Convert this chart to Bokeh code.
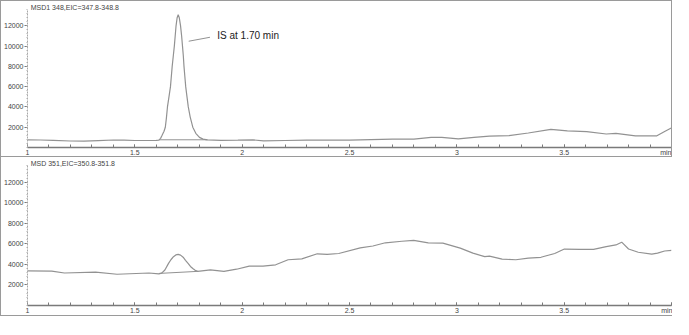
from bokeh.plotting import figure
from bokeh.layouts import column
from bokeh.models import Range1d, FixedTicker, Label
from bokeh.embed import file_html
from bokeh.resources import INLINE

# ---- data (retention time in min, abundance) ----
top_title = "MSD1 348,EIC=347.8-348.8"
top_t = [1.000, 1.06, 1.12, 1.20, 1.263, 1.33, 1.40, 1.45, 1.50, 1.566, 1.600, 1.612,
         1.620, 1.627, 1.636, 1.642, 1.647, 1.652, 1.659, 1.666, 1.670, 1.674, 1.679,
         1.684, 1.688, 1.692, 1.697, 1.702, 1.707, 1.713, 1.718, 1.722, 1.726, 1.729,
         1.733, 1.737, 1.743, 1.749, 1.758, 1.770, 1.784, 1.801, 1.818, 1.838, 1.90,
         1.98, 2.05, 2.10, 2.20, 2.30, 2.43, 2.50, 2.60, 2.70, 2.80, 2.88, 2.93,
         3.007, 3.08, 3.152, 3.243, 3.333, 3.438, 3.515, 3.605, 3.696, 3.741, 3.832,
         3.932, 3.968, 4.000]
top_v = [755, 740, 700, 640, 620, 680, 740, 720, 690, 690, 700, 720,
         900, 1200, 1600, 2000, 2900, 4000, 5000, 6000, 7000, 8000, 9000,
         10000, 11000, 12000, 12800, 13100, 12800, 12000, 11000, 10000, 9000, 8000,
         7000, 6000, 5000, 4000, 3000, 2000, 1400, 1000, 830, 750, 700,
         720, 750, 660, 690, 720, 727, 720, 780, 820, 830, 1000, 1000,
         850, 1000, 1120, 1180, 1430, 1790, 1640, 1570, 1330, 1390, 1150,
         1150, 1570, 1940]
top_base_t = [1.612, 1.838]
top_base_v = [760, 760]

bot_title = "MSD 351,EIC=350.8-351.8"
bot_t = [1.000, 1.113, 1.172, 1.317, 1.417, 1.566, 1.612, 1.625, 1.640, 1.657, 1.668,
         1.680, 1.691, 1.702, 1.713, 1.725, 1.736, 1.748, 1.759, 1.770, 1.781, 1.793,
         1.852, 1.915, 1.974, 2.033, 2.097, 2.156, 2.214, 2.278, 2.350, 2.396, 2.450,
         2.550, 2.609, 2.667, 2.744, 2.799, 2.867, 2.935, 3.016, 3.075, 3.130, 3.152,
         3.211, 3.275, 3.333, 3.392, 3.456, 3.501, 3.574, 3.637, 3.696, 3.741, 3.768,
         3.800, 3.845, 3.908, 3.935, 3.968, 4.000]
bot_v = [3375, 3350, 3160, 3250, 3040, 3160, 3070, 3150, 3450, 4100, 4450,
         4750, 4920, 4970, 4900, 4700, 4400, 4100, 3800, 3600, 3420, 3320,
         3470, 3320, 3530, 3830, 3830, 3960, 4450, 4540, 5030, 4970, 5060,
         5610, 5790, 6100, 6250, 6340, 6100, 6070, 5580, 5090, 4750, 4810,
         4510, 4450, 4600, 4690, 5060, 5490, 5460, 5460, 5730, 5890, 6160,
         5500, 5180, 5000, 5090, 5300, 5360]
bot_base_t = [1.612, 1.793]
bot_base_v = [3120, 3320]

x_ticks = [1, 1.5, 2, 2.5, 3, 3.5, 4]
x_tick_labels = ["1", "1.5", "2", "2.5", "3", "3.5", "min"]
y_ticks = [2000, 4000, 6000, 8000, 10000, 12000]

ann_text = "IS at 1.70 min"
ann_line_t = [1.751, 1.850]
ann_line_v = [10480, 10870]
ann_pos = (1.884, 11000)

FONT = "Liberation Sans"
TRACE = "#929292"
BORDER = "1px solid #9a9a9a"


def panel(h, title, t, v, bt, bv):
    p = figure(width=671, height=h, output_backend="svg", toolbar_location=None,
               x_range=Range1d(1, 4), y_range=Range1d(0, 14300),
               min_border_left=22, min_border_right=1, min_border_top=1,
               min_border_bottom=0)
    p.grid.visible = False
    p.outline_line_color = None
    p.background_fill_color = "white"
    p.line(t, v, line_color=TRACE, line_width=1.2)
    p.line(bt, bv, line_color=TRACE, line_width=1.0)

    xa = p.xaxis[0]
    xa.ticker = FixedTicker(ticks=x_ticks,
                            minor_ticks=[1 + i * 0.1 for i in range(31)])
    xa.major_label_overrides = {k: s for k, s in zip(x_ticks, x_tick_labels)}
    xa.bounds = (1, 4)
    xa.axis_line_color = "#7a7a7a"
    xa.axis_line_width = 1.3
    xa.major_tick_in = 3
    xa.major_tick_out = 0
    xa.minor_tick_in = 3
    xa.minor_tick_out = 0
    xa.major_tick_line_color = "#7a7a7a"
    xa.minor_tick_line_color = "#7a7a7a"
    xa.major_label_standoff = 1
    xa.major_label_text_font = FONT
    xa.major_label_text_font_size = "7px"
    xa.major_label_text_color = "#444444"

    ya = p.yaxis[0]
    ya.ticker = FixedTicker(ticks=y_ticks,
                            minor_ticks=[i * 400 for i in range(35)])
    ya.bounds = (0, 13600)
    ya.axis_line_color = "#a8a8a8"
    ya.axis_line_dash = "2 1"
    ya.major_tick_in = 0
    ya.major_tick_out = 3
    ya.minor_tick_in = 0
    ya.minor_tick_out = 1
    ya.major_tick_line_color = "#7a7a7a"
    ya.minor_tick_line_color = "#b0b0b0"
    ya.major_label_standoff = 1
    ya.major_label_text_font = FONT
    ya.major_label_text_font_size = "7px"
    ya.major_label_text_color = "#444444"

    p.add_layout(Label(x=1.015, y=14300, text=title, text_baseline="top",
                       y_offset=-1, text_font=FONT, text_font_size="7px",
                       text_color="#444444"))
    return p


p1 = panel(157, top_title, top_t, top_v, top_base_t, top_base_v)
p1.line(ann_line_t, ann_line_v, line_color=TRACE, line_width=1.0)
p1.add_layout(Label(x=ann_pos[0], y=ann_pos[1], text=ann_text,
                    text_baseline="middle", text_font=FONT,
                    text_font_size="10px", text_color="#222222"))
p1.styles = {"border-top": BORDER, "border-right": BORDER, "border-bottom": BORDER}

p2 = panel(159, bot_title, bot_t, bot_v, bot_base_t, bot_base_v)
p2.styles = {"border-bottom": BORDER}

layout = column(p1, p2, styles={"border-left": BORDER})
open("out.html", "w").write(file_html(layout, INLINE))
